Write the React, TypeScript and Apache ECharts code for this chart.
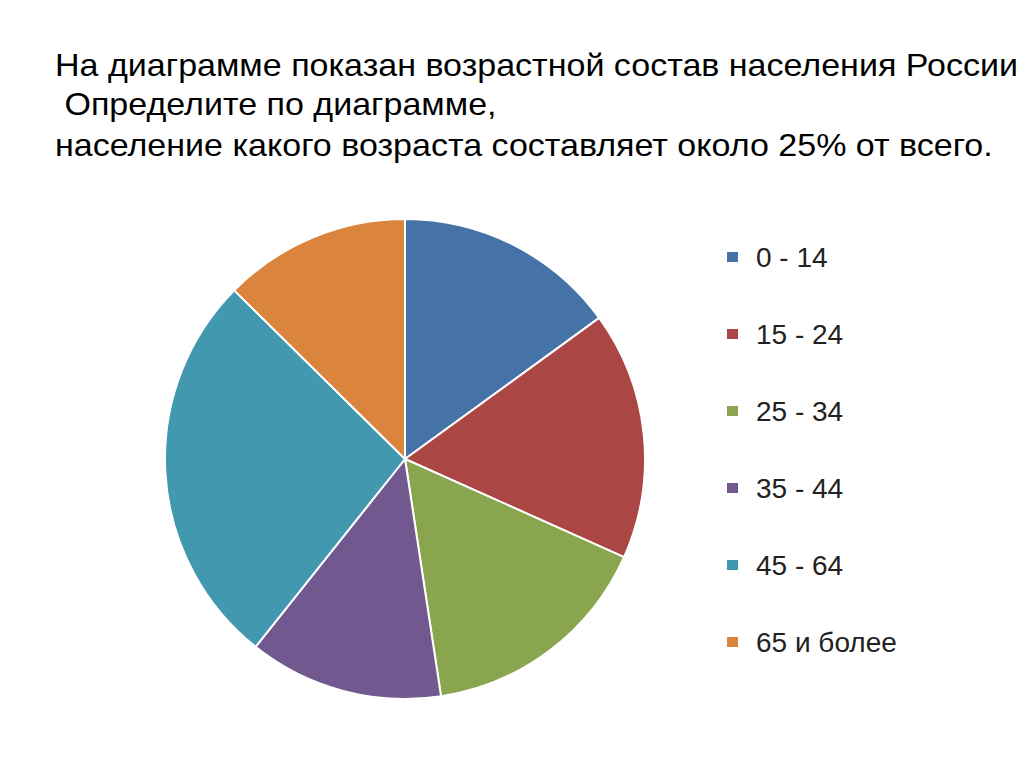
import React, { useEffect, useRef } from "react";
import * as echarts from "echarts";

const categories = ["0 - 14", "15 - 24", "25 - 34", "35 - 44", "45 - 64", "65 и более"];
const values = [15.0, 16.7, 15.9, 13.1, 26.7, 12.6];
const colors = ["#4572A7", "#AA4643", "#89A54E", "#71588F", "#4198AF", "#DB843D"];
const titleLines = [
  "На диаграмме показан возрастной состав населения России",
  " Определите по диаграмме,",
  "население какого возраста составляет около 25% от всего.",
];

export default function App() {
  const ref = useRef<HTMLDivElement>(null);
  useEffect(() => {
    document.body.style.margin = "0";
    const chart = echarts.init(ref.current!, undefined, { renderer: "svg" });
    chart.setOption({
      animation: false,
      backgroundColor: "#ffffff",
      color: colors,
      graphic: titleLines.map((t, i) => ({
        type: "text",
        x: 55,
        y: [49, 88, 129][i],
        scaleX: 1.064,
        style: {
          text: t,
          x: 0,
          y: 0,
          verticalAlign: "top",
          fontFamily: "Liberation Sans, Arial, sans-serif",
          fontSize: 32,
          fill: "#000",
        },
      })),
      legend: {
        orient: "vertical",
        left: 725,
        top: 243,
        padding: 0,
        itemWidth: 13,
        itemHeight: 12,
        itemGap: 49,
        icon: "rect",
        data: categories,
        textStyle: {
          fontFamily: "Liberation Sans, Arial, sans-serif",
          fontSize: 28,
          color: "#222",
          padding: [0, 0, 0, 12],
          lineHeight: 28,
        },
      },
      series: [
        {
          type: "pie",
          center: [405, 459],
          radius: 240,
          startAngle: 90,
          clockwise: true,
          label: { show: false },
          labelLine: { show: false },
          itemStyle: { borderColor: "#fff", borderWidth: 2 },
          emphasis: { disabled: true },
          data: categories.map((c, i) => ({ name: c, value: values[i] })),
        },
      ],
    });
    return () => chart.dispose();
  }, []);
  return <div ref={ref} style={{ width: 1024, height: 767 }} />;
}
